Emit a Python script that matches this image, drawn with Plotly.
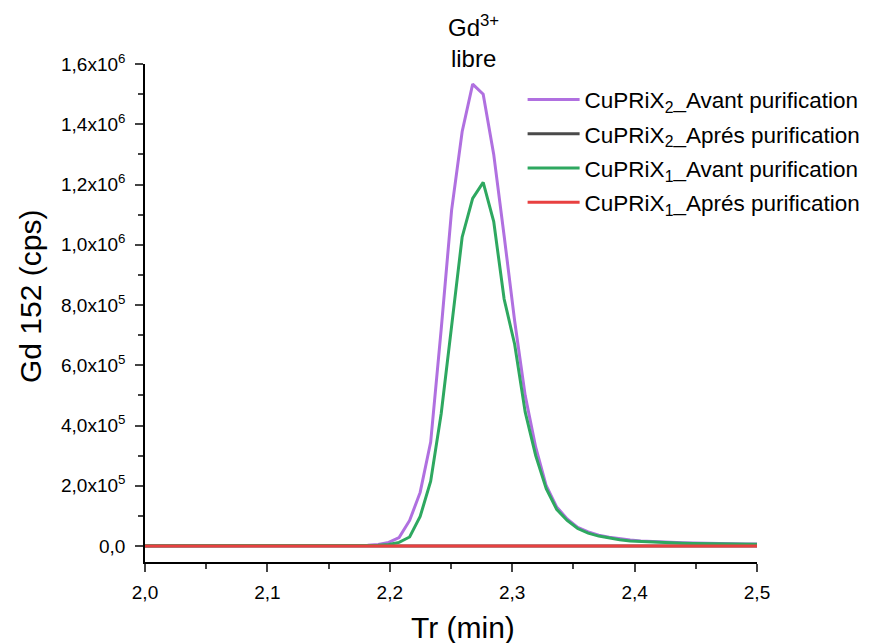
import plotly.graph_objects as go

# Retention time (min)
times = [2.0, 2.05, 2.1, 2.15, 2.1733,
         2.1819, 2.1905, 2.1991, 2.2076, 2.2162, 2.2248, 2.2334, 2.2420, 2.2505, 2.2591,
         2.2677, 2.2763, 2.2849, 2.2934, 2.3020, 2.3106, 2.3192, 2.3278, 2.3363, 2.3449,
         2.3535, 2.3621, 2.3707, 2.3792, 2.3878, 2.3964, 2.4050, 2.4136, 2.4221, 2.4307,
         2.4393, 2.4479, 2.4565, 2.4650, 2.4736, 2.4822, 2.4908, 2.5]

# Intensities in units of 1e6 cps
x2_avant = [0.001, 0.001, 0.001, 0.002, 0.002,
            0.003, 0.005, 0.012, 0.028, 0.085, 0.178, 0.345, 0.72, 1.115, 1.375,
            1.533, 1.50, 1.30, 1.03, 0.747, 0.50, 0.328, 0.200, 0.130, 0.090,
            0.062, 0.047, 0.036, 0.029, 0.024, 0.020, 0.017, 0.015, 0.013, 0.012,
            0.011, 0.010, 0.009, 0.009, 0.008, 0.008, 0.007, 0.007]
x2_apres = [0.0, 0.0, 0.0, 0.0, 0.0,
            0.0, 0.0, 0.0, 0.0, 0.0, 0.0005, 0.001, 0.001, 0.0015, 0.002,
            0.002, 0.002, 0.0015, 0.001, 0.001, 0.0005, 0.0005, 0.0, 0.0, 0.0,
            0.0, 0.0, 0.0, 0.0, 0.0, 0.0, 0.0, 0.0, 0.0, 0.0,
            0.0, 0.0, 0.0, 0.0, 0.0, 0.0, 0.0, 0.0]
x1_avant = [0.001, 0.001, 0.001, 0.001, 0.002,
            0.002, 0.003, 0.005, 0.012, 0.030, 0.098, 0.215, 0.44, 0.73, 1.025,
            1.154, 1.207, 1.077, 0.82, 0.67, 0.445, 0.300, 0.190, 0.122, 0.085,
            0.058, 0.043, 0.033, 0.026, 0.021, 0.017, 0.015, 0.013, 0.011, 0.010,
            0.009, 0.008, 0.008, 0.007, 0.007, 0.006, 0.006, 0.006]
x1_apres = [0.0, 0.0, 0.0, 0.0, 0.0,
            0.0, 0.0, 0.0, 0.0, 0.0, 0.0, 0.0005, 0.0005, 0.001, 0.001,
            0.001, 0.001, 0.001, 0.0005, 0.0005, 0.0, 0.0, 0.0, 0.0, 0.0,
            0.0, 0.0, 0.0, 0.0, 0.0, 0.0, 0.0, 0.0, 0.0, 0.0,
            0.0, 0.0, 0.0, 0.0, 0.0, 0.0, 0.0, 0.0]

series_names = ["CuPRiX<sub>2</sub>_Avant purification",
                "CuPRiX<sub>2</sub>_Aprés purification",
                "CuPRiX<sub>1</sub>_Avant purification",
                "CuPRiX<sub>1</sub>_Aprés purification"]
series_vals = [x2_avant, x2_apres, x1_avant, x1_apres]
colors = ["#b070e0", "#4a4a4a", "#2ea860", "#e84040"]

x_tickvals = [2.0, 2.1, 2.2, 2.3, 2.4, 2.5]
x_ticktext = ["2,0", "2,1", "2,2", "2,3", "2,4", "2,5"]
y_tickvals = [0, 2e5, 4e5, 6e5, 8e5, 1e6, 1.2e6, 1.4e6, 1.6e6]
y_ticktext = ["0,0", "2,0x10<sup>5</sup>", "4,0x10<sup>5</sup>", "6,0x10<sup>5</sup>",
              "8,0x10<sup>5</sup>", "1,0x10<sup>6</sup>", "1,2x10<sup>6</sup>",
              "1,4x10<sup>6</sup>", "1,6x10<sup>6</sup>"]

FONT = "Liberation Sans, Arial, Helvetica, sans-serif"

fig = go.Figure()
for i, (name, vals, col) in enumerate(zip(series_names, series_vals, colors)):
    fig.add_trace(go.Scatter(
        x=times, y=[v * 1e6 for v in vals], mode="lines", name=name,
        line=dict(color=col, width=3), legendgroup=str(i)))

fig.update_layout(
    width=864, height=635,
    margin=dict(l=137, r=115, t=56, b=81, autoexpand=False),
    plot_bgcolor="white", paper_bgcolor="white",
    font=dict(family=FONT, color="black", size=19),
    showlegend=True,
    legend=dict(x=0.617, y=0.971, xanchor="left", yanchor="top",
                bgcolor="rgba(0,0,0,0)", font=dict(size=22.5, family=FONT),
                tracegroupgap=2, itemwidth=52),
    xaxis=dict(range=[2.0, 2.5], tickvals=x_tickvals, ticktext=x_ticktext,
               showgrid=False, zeroline=False, showline=True, linecolor="black",
               linewidth=1.5, ticks="outside", ticklen=8, tickwidth=1.5,
               tickfont=dict(size=19), ticklabelstandoff=4,
               minor=dict(dtick=0.05, tick0=2.0, ticks="outside", ticklen=5,
                          tickwidth=1.5, showgrid=False)),
    yaxis=dict(range=[-53000, 1.6e6], tickvals=y_tickvals, ticktext=y_ticktext,
               showgrid=False, zeroline=False, showline=True, linecolor="black",
               linewidth=1.5, ticks="outside", ticklen=8, tickwidth=1.5,
               tickfont=dict(size=19), ticklabelstandoff=6,
               minor=dict(dtick=1e5, tick0=0, ticks="outside", ticklen=5,
                          tickwidth=1.5, showgrid=False)),
)

# Axis titles (placed as in the reference)
fig.add_annotation(x=0.519, y=-0.132, xref="paper", yref="paper",
                   text="Tr (min)", showarrow=False, xanchor="center", yanchor="middle",
                   font=dict(size=30, family=FONT))
fig.add_annotation(x=-0.188, y=0.534, xref="paper", yref="paper",
                   text="Gd 152 (cps)", showarrow=False, textangle=-90,
                   xanchor="center", yanchor="middle",
                   font=dict(size=30, family=FONT))

fig.add_annotation(x=2.268, y=1.6e6, xref="x", yref="y", yanchor="bottom",
                   text="Gd<sup>3+</sup><br>libre", showarrow=False,
                   font=dict(size=24, family=FONT), yshift=-10)

fig.write_html("out.html")
